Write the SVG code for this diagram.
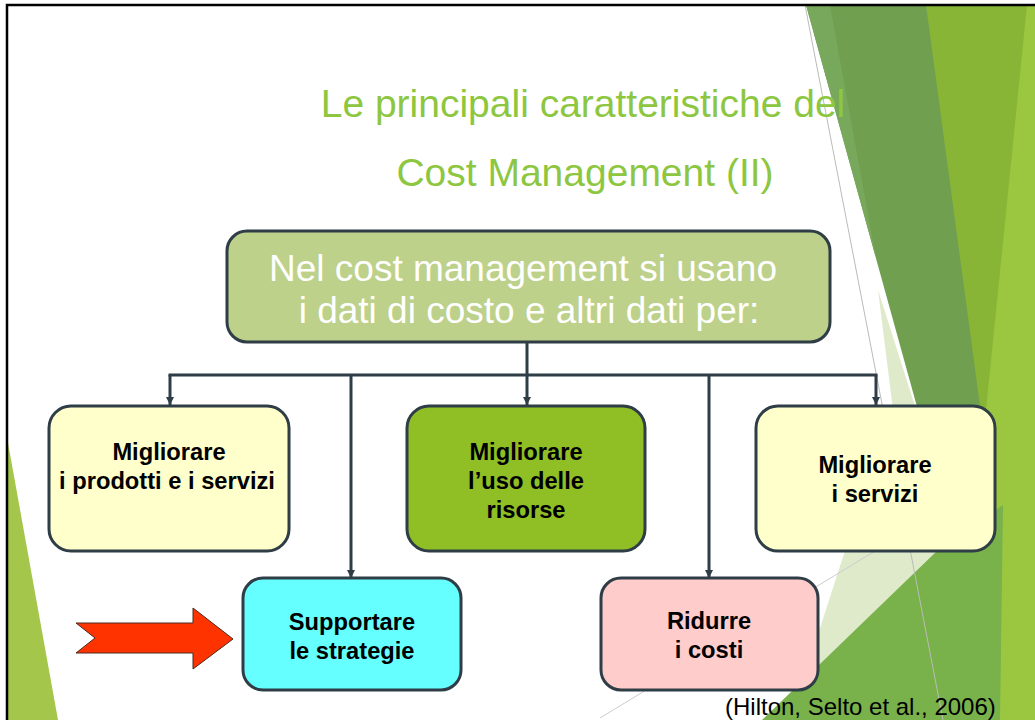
<svg xmlns="http://www.w3.org/2000/svg" width="1035" height="720" viewBox="0 0 1035 720">
<defs>
<marker id="ah" viewBox="0 0 10 10" refX="10" refY="5" markerWidth="8" markerHeight="8" markerUnits="userSpaceOnUse" orient="auto">
<path d="M0,0 L10,5 L0,10 z" fill="#2e3d46"/>
</marker>
<style>
.box{stroke:#2e3d46;stroke-width:3}
.lbl{font-family:"Liberation Sans",Arial,sans-serif;font-weight:bold;font-size:23.7px;fill:#000;text-anchor:middle}
.title{font-family:"Liberation Sans",Arial,sans-serif;font-size:39px;fill:#8dc63f;text-anchor:middle}
.head{font-family:"Liberation Sans",Arial,sans-serif;font-size:37px;fill:#ffffff;text-anchor:middle}
.conn{fill:none;stroke:#2e3d46;stroke-width:3}
</style>
</defs>
<rect x="0" y="0" width="1035" height="720" fill="#ffffff"/>
<g id="background">
<polygon points="926,5 1035,5 1035,720 940,720" fill="#88b535"/>
<polygon points="1027,5 1035,5 1035,720 1000,720 1000,560 985,420" fill="#9ac73f"/>
<polygon points="878,290 945,500 950,545 800,690 842,560 893,410" fill="#dfeacb"/>
<polygon points="806,5 926,5 990,480 940,490" fill="#6f9f4f"/>
<polygon points="806,5 830,5 876,258" fill="#78a85b"/>
<polygon points="762,720 938,550 1003,505 1000,720" fill="#79b14b"/>
<line x1="805" y1="5" x2="943" y2="720" stroke="#b9bdb5" stroke-width="1"/>
<line x1="600" y1="718" x2="880" y2="548" stroke="#cccccc" stroke-width="1"/>
<polygon points="8,443 58,720 8,720" fill="#a3c64b"/>
</g>
<g id="title">
<text class="title" x="583" y="117">Le principali caratteristiche del</text>
<text class="title" x="585" y="186">Cost Management (II)</text>
</g>
<g id="connectors">
<line class="conn" x1="527" y1="342" x2="527" y2="405" marker-end="url(#ah)"/>
<line class="conn" x1="168.5" y1="375" x2="877.5" y2="375"/>
<line class="conn" x1="170" y1="375" x2="170" y2="405" marker-end="url(#ah)"/>
<line class="conn" x1="876" y1="375" x2="876" y2="405" marker-end="url(#ah)"/>
<line class="conn" x1="351" y1="375" x2="351" y2="578" marker-end="url(#ah)"/>
<line class="conn" x1="709" y1="375" x2="709" y2="578" marker-end="url(#ah)"/>
</g>
<g id="node-top">
<rect class="box" x="227" y="231" width="603" height="111" rx="20" fill="#bdd18a"/>
<text class="head" x="523" y="281">Nel cost management si usano</text>
<text class="head" x="529" y="323">i dati di costo e altri dati per:</text>
</g>
<g id="node-prodotti">
<rect class="box" x="49" y="406" width="240" height="145" rx="22" fill="#ffffcc"/>
<text class="lbl" x="169" y="460">Migliorare</text>
<text class="lbl" x="167" y="489">i prodotti e i servizi</text>
</g>
<g id="node-risorse">
<rect class="box" x="407" y="406" width="238" height="145" rx="22" fill="#8fbe25"/>
<text class="lbl" x="526" y="460">Migliorare</text>
<text class="lbl" x="526" y="489">l’uso delle</text>
<text class="lbl" x="526" y="518">risorse</text>
</g>
<g id="node-servizi">
<rect class="box" x="756" y="406" width="239" height="145" rx="22" fill="#ffffcc"/>
<text class="lbl" x="875" y="473">Migliorare</text>
<text class="lbl" x="875" y="502">i servizi</text>
</g>
<g id="node-strategie">
<rect class="box" x="243" y="578" width="218" height="112" rx="20" fill="#66ffff"/>
<text class="lbl" x="352" y="630">Supportare</text>
<text class="lbl" x="352" y="659">le strategie</text>
</g>
<g id="node-costi">
<rect class="box" x="601" y="578" width="217" height="112" rx="20" fill="#ffcccc"/>
<text class="lbl" x="709" y="629">Ridurre</text>
<text class="lbl" x="709" y="658">i costi</text>
</g>
<g id="red-arrow">
<polygon points="76,623 193,623 193,608 233,639 193,669 193,653 76,653 95,638" fill="#ff3300" stroke="#4a2a20" stroke-width="1"/>
</g>
<text x="725" y="715" font-family="Liberation Sans, Arial, sans-serif" font-size="24" fill="#000">(Hilton, Selto et al., 2006)</text>
<rect x="7" y="5" width="1040" height="730" fill="none" stroke="#000" stroke-width="2.5"/>
</svg>
